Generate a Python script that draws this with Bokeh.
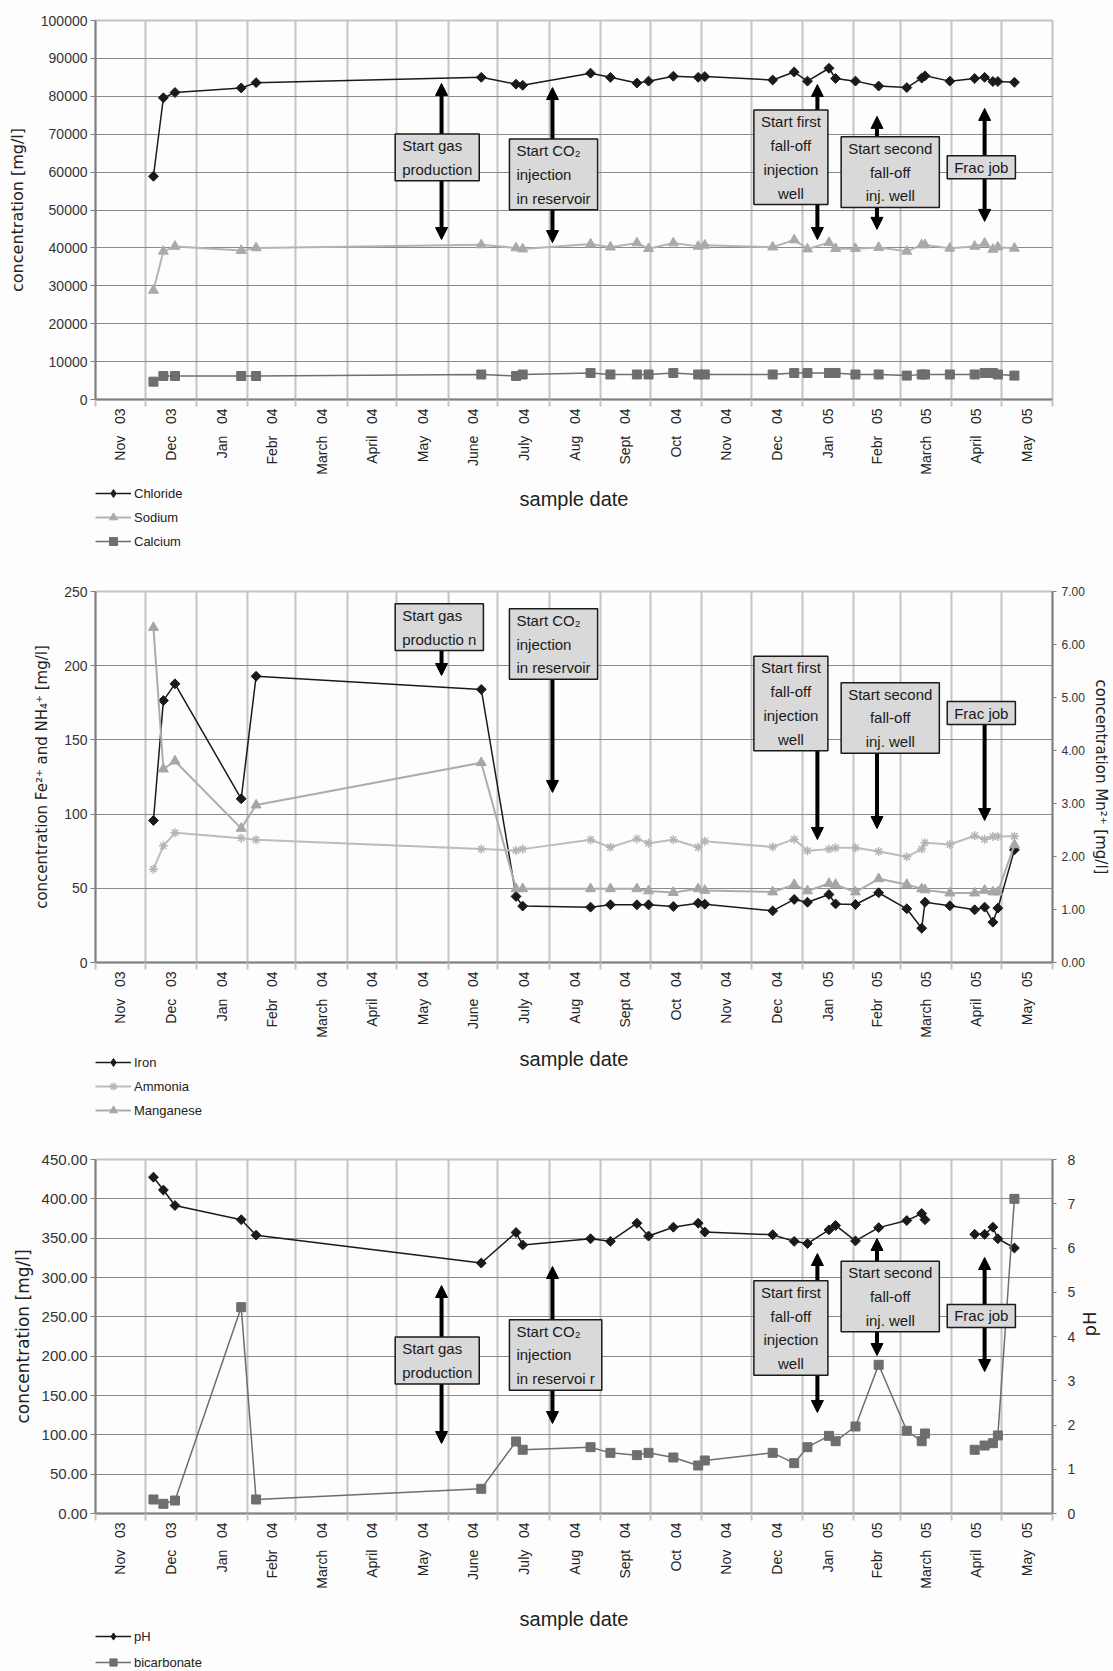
import math
import pandas as pd
from bokeh.plotting import figure
from bokeh.models import (Range1d, LinearAxis, FixedTicker, SingleIntervalTicker,
                          NumeralTickFormatter, Legend, LegendItem, Label, Arrow, NormalHead)
from bokeh.layouts import column
from bokeh.embed import file_html
from bokeh.resources import INLINE

# ---------------- data ----------------
AXIS_START = "2003-11-01"
AXIS_END = "2005-06-01"
MONTHS = ["Nov", "Dec", "Jan", "Febr", "March", "April", "May", "June", "July", "Aug",
          "Sept", "Oct", "Nov", "Dec", "Jan", "Febr", "March", "April", "May"]
YEARS = ["03", "03", "04", "04", "04", "04", "04", "04", "04", "04",
         "04", "04", "04", "04", "05", "05", "05", "05", "05"]

SAMPLE_DATES = ["2003-12-06", "2003-12-12", "2003-12-19", "2004-01-28", "2004-02-06",
                "2004-06-21", "2004-07-12", "2004-07-16", "2004-08-26", "2004-09-07",
                "2004-09-23", "2004-09-30", "2004-10-15", "2004-10-30", "2004-11-03",
                "2004-12-14", "2004-12-27", "2005-01-04", "2005-01-17", "2005-01-21",
                "2005-02-02", "2005-02-16", "2005-03-05", "2005-03-14", "2005-03-16",
                "2005-03-31", "2005-04-15", "2005-04-21", "2005-04-26", "2005-04-29",
                "2005-05-09"]

chloride = [58900, 79600, 81000, 82200, 83600, 85000, 83200, 82900, 86100, 85000,
            83500, 84000, 85300, 85000, 85200, 84300, 86400, 84000, 87400, 84700,
            84000, 82700, 82300, 84800, 85400, 84000, 84700, 85000, 83900, 83900, 83700]
sodium = [28800, 39100, 40400, 39300, 40000, 40800, 40000, 39700, 41000, 40200,
          41300, 39800, 41300, 40400, 40700, 40200, 42100, 39700, 41400, 39800,
          39800, 40100, 39100, 40800, 40800, 39900, 40400, 41200, 39600, 40200, 39900]
calcium = [4700, 6200, 6200, 6200, 6200, 6600, 6200, 6600, 7000, 6600,
           6600, 6600, 7000, 6600, 6600, 6600, 7000, 7000, 7000, 7000,
           6600, 6600, 6300, 6600, 6600, 6600, 6600, 7000, 7000, 6600, 6300]

iron = [95.7, 176.5, 187.8, 110.3, 192.9, 184.0, 44.5, 38.0, 37.3, 38.9,
        38.9, 38.9, 37.7, 40.0, 39.3, 34.8, 42.5, 40.6, 45.8, 39.5,
        39.1, 47.0, 36.2, 23.1, 40.6, 38.2, 35.5, 37.3, 27.2, 36.6, 75.9]
ammonia = [62.9, 78.6, 87.4, 83.8, 82.7, 76.4, 75.5, 76.4, 82.7, 77.7,
           83.3, 80.4, 82.7, 77.7, 81.7, 77.9, 83.1, 75.3, 76.4, 77.3,
           77.3, 74.8, 71.2, 76.4, 80.7, 79.5, 85.4, 83.1, 84.9, 84.9, 85.1]
manganese = [6.32, 3.65, 3.80, 2.53, 2.97, 3.77, 1.39, 1.39, 1.39, 1.39,
             1.39, 1.35, 1.32, 1.39, 1.36, 1.33, 1.47, 1.35, 1.49, 1.47,
             1.33, 1.58, 1.47, 1.39, 1.37, 1.31, 1.31, 1.36, 1.33, 1.33, 2.22]

NaN = float("nan")
ph = [7.60, 7.31, 6.96, 6.64, 6.29, 5.66, 6.35, 6.07, 6.21, 6.15,
      6.56, 6.27, 6.47, 6.56, 6.36, 6.30, 6.15, 6.10, 6.41, 6.51,
      6.16, 6.46, 6.62, 6.78, 6.64, NaN, 6.31, 6.31, 6.47, 6.21, 6.00]
bicarbonate = [17.8, 12.3, 16.5, 262.3, 17.8, 31.4, 91.5, 81.0, 84.3, 77.1,
               74.2, 77.1, 71.2, 61.0, 67.4, 77.1, 64.0, 84.3, 98.7, 91.9,
               110.6, 189.0, 105.1, 91.9, 101.7, NaN, 81.0, 86.4, 89.4, 99.2, 400.0]

# events: arrow date, text anchor date, text alignment
EVENT_DATES = ["2004-05-28", "2004-08-03", "2005-01-10", "2005-02-15", "2005-04-21"]
EVENT_TEXT_DATES = ["2004-04-30", "2004-07-08", "2004-12-25", "2005-02-23", "2005-04-19"]
EVENT_ALIGN = ["left", "left", "center", "center", "center"]
P1_TEXT = ["Start gas\nproduction", "Start CO\u2082\ninjection\nin reservoir",
           "Start first\nfall-off\ninjection\nwell", "Start second\nfall-off\ninj. well", "Frac job"]
P2_TEXT = ["Start gas\nproductio n", "Start CO\u2082\ninjection\nin reservoir",
           "Start first\nfall-off\ninjection\nwell", "Start second\nfall-off\ninj. well", "Frac job"]
P3_TEXT = ["Start gas\nproduction", "Start CO\u2082\ninjection\nin reservoi r",
           "Start first\nfall-off\ninjection\nwell", "Start second\nfall-off\ninj. well", "Frac job"]
P1_TEXT_Y = [63900, 59400, 63900, 60000, 61300]
P1_ARROW = [(83400, 42200), (82300, 41400), (83100, 42200), (74700, 44900), (76800, 47000)]
P2_TEXT_Y = [226, 214.6, 174.5, 164.8, 168.1]
P2_ARROW = [(226, 193.4), (214.6, 114.6), (174.5, 82.9), (164.8, 90.3), (168.1, 95.7)]
P3_TEXT_Y = [194.5, 201.5, 235.8, 275.8, 251.1]
P3_ARROW = [(289.8, 89.0), (314.0, 114.4), (330.5, 128.4), (349.6, 200.8), (325.4, 180.5)]

# ---------------- helpers ----------------
T0 = pd.Timestamp(AXIS_START)


def to_days(dates):
    return [float((pd.Timestamp(d) - T0).days) for d in dates]


X_END = to_days([AXIS_END])[0]
GRID_DAYS = to_days(pd.date_range(AXIS_START, AXIS_END, freq="MS"))
MID_DAYS = [(a + b) / 2.0 for a, b in zip(GRID_DAYS[:-1], GRID_DAYS[1:])]
MONTH_LABELS = {d: f"{m}\u00a0\u00a0\u00a0{y}" for d, m, y in zip(MID_DAYS, MONTHS, YEARS)}
XS = to_days(SAMPLE_DATES)
EV_X = to_days(EVENT_DATES)
EV_TX = to_days(EVENT_TEXT_DATES)

W = 1113
LEFT = 95
RIGHT = 56
BG = "#fdfdfd"
AX = "#808080"
TXT = "#333333"
FONT = "Liberation Sans"
DIAMOND = math.pi / 4

STYLES = {
    "Chloride": dict(color="#1a1a1a", marker="square", size=7, lw=1.5, mcolor="#1a1a1a", angle=DIAMOND),
    "Sodium": dict(color="#b4b4b4", marker="triangle", size=10, lw=2.0, mcolor="#aaaaaa", angle=0.0),
    "Calcium": dict(color="#6e6e6e", marker="square", size=9, lw=1.5, mcolor="#6e6e6e", angle=0.0),
    "Iron": dict(color="#1a1a1a", marker="square", size=7, lw=1.5, mcolor="#1a1a1a", angle=DIAMOND),
    "Ammonia": dict(color="#bcbcbc", marker="asterisk", size=9, lw=2.0, mcolor="#b4b4b4", angle=0.0),
    "Manganese": dict(color="#acacac", marker="triangle", size=10, lw=2.0, mcolor="#a6a6a6", angle=0.0),
    "pH": dict(color="#1a1a1a", marker="square", size=7, lw=1.5, mcolor="#1a1a1a", angle=DIAMOND),
    "bicarbonate": dict(color="#6e6e6e", marker="square", size=9, lw=1.5, mcolor="#6e6e6e", angle=0.0),
}


def make_fig(height, top, bottom, y_end, y_step, y_fmt, y_label,
             y_label_size, y_tick_size, y_label_standoff):
    p = figure(width=W, height=height, x_range=Range1d(0, X_END), y_range=Range1d(0, y_end),
               output_backend="svg", toolbar_location=None,
               min_border_top=top, min_border_left=LEFT, min_border_right=RIGHT,
               min_border_bottom=bottom, background_fill_color=BG, border_fill_color=BG,
               outline_line_color="#c4c4c4", outline_line_width=2)
    xa = p.xaxis[0]
    xa.ticker = FixedTicker(ticks=GRID_DAYS)
    xa.major_label_overrides = {d: "" for d in GRID_DAYS}
    xa.major_label_text_font_size = "0px"
    xa.major_label_standoff = 0
    xa.major_tick_in = 0
    xa.major_tick_out = 7
    xa.major_tick_line_color = "#c4c4c4"
    xa.major_tick_line_width = 2
    xa.minor_tick_line_color = None
    xa.axis_line_color = AX
    xa.axis_line_width = 2

    la = LinearAxis(ticker=FixedTicker(ticks=MID_DAYS), major_label_overrides=MONTH_LABELS,
                    major_label_orientation=math.pi / 2, axis_line_color=None,
                    major_tick_line_color=None, minor_tick_line_color=None,
                    major_tick_in=0, major_tick_out=0, major_label_standoff=2,
                    major_label_text_font=FONT, major_label_text_font_size="14px",
                    major_label_text_color="#222222")
    p.add_layout(la, "below")

    p.xgrid.grid_line_color = "#c4c4c4"
    p.xgrid.grid_line_width = 2
    p.ygrid.grid_line_color = "#8a8a8a"
    p.ygrid.grid_line_width = 1

    ya = p.yaxis[0]
    ya.ticker = SingleIntervalTicker(interval=y_step, num_minor_ticks=0)
    ya.formatter = NumeralTickFormatter(format=y_fmt)
    ya.axis_line_color = AX
    ya.axis_line_width = 2
    ya.major_tick_line_color = AX
    ya.major_tick_in = 0
    ya.major_tick_out = 5
    ya.minor_tick_line_color = None
    ya.major_label_standoff = 3
    ya.major_label_text_font = FONT
    ya.major_label_text_font_size = y_tick_size
    ya.major_label_text_color = TXT
    ya.axis_label = y_label
    ya.axis_label_standoff = y_label_standoff
    ya.axis_label_text_font = "DejaVu Sans"
    ya.axis_label_text_font_size = y_label_size
    ya.axis_label_text_font_style = "normal"
    ya.axis_label_text_color = "#222222"
    return p


def add_right_axis(p, name, end, step, fmt, label, tick_size, label_size, standoff,
                   label_standoff, upward):
    p.extra_y_ranges = {name: Range1d(0, end)}
    ra = LinearAxis(y_range_name=name, ticker=SingleIntervalTicker(interval=step, num_minor_ticks=0),
                    formatter=NumeralTickFormatter(format=fmt),
                    axis_line_color=AX, axis_line_width=2, major_tick_line_color=AX,
                    major_tick_in=0, major_tick_out=4, minor_tick_line_color=None,
                    major_label_standoff=standoff, major_label_text_font=FONT,
                    major_label_text_font_size=tick_size, major_label_text_color=TXT,
                    axis_label=label, axis_label_standoff=label_standoff,
                    axis_label_text_font="DejaVu Sans", axis_label_text_font_size=label_size,
                    axis_label_text_font_style="normal", axis_label_text_color="#222222")
    if upward:
        try:
            ra.axis_label_orientation = math.pi / 2
        except Exception:
            pass
    p.add_layout(ra, "right")


def draw(p, name, x, y, rname="default", legend=False):
    s = STYLES[name]
    r1 = p.line(x, y, line_color=s["color"], line_width=s["lw"], y_range_name=rname)
    if s["marker"] == "asterisk":
        r2 = p.scatter(x, y, marker="asterisk", size=s["size"], line_color=s["mcolor"],
                       line_width=1.5, y_range_name=rname)
    elif legend and s["angle"]:
        r2 = p.scatter(x, y, marker="diamond", size=s["size"] + 4, fill_color=s["mcolor"],
                       line_color=s["mcolor"], y_range_name=rname)
    else:
        r2 = p.scatter(x, y, marker=s["marker"], size=s["size"], fill_color=s["mcolor"],
                       line_color=s["mcolor"], angle=s["angle"], y_range_name=rname)
    return [r1, r2]


def add_events(p, texts, text_y, arrows, double):
    for i in range(len(texts)):
        y0, y1 = arrows[i]
        head = dict(size=12, fill_color="black", line_color="black", line_width=1)
        p.add_layout(Arrow(x_start=EV_X[i], y_start=y0, x_end=EV_X[i], y_end=y1,
                           line_width=4, line_color="black",
                           end=NormalHead(**head),
                           start=NormalHead(**head) if double else None))
    for i, t in enumerate(texts):
        p.add_layout(Label(x=EV_TX[i], y=text_y[i], text=t, text_align=EVENT_ALIGN[i],
                           text_baseline="middle", text_font=FONT, text_font_size="15px",
                           text_color="#1a1a1a", text_line_height=1.4,
                           background_fill_color="#d9d9d9", border_line_color="#1a1a1a",
                           border_line_width=1.5,
                           padding=dict(left=7, right=7, top=3, bottom=3)))


def legend_fig(height, names, caption_from_top, legend_top, item_h, spacing):
    """Strip under a panel holding its legend and the 'sample date' caption."""
    q = figure(width=W, height=height, x_range=Range1d(0, X_END), y_range=Range1d(0, height),
               output_backend="svg", toolbar_location=None, min_border=0,
               min_border_left=LEFT, min_border_right=RIGHT,
               x_axis_location=None, y_axis_location=None,
               background_fill_color=BG, border_fill_color=BG, outline_line_color=None)
    q.xgrid.visible = False
    q.ygrid.visible = False
    # legend swatches: renderers with no visible data point
    items = [LegendItem(label=n, renderers=draw(q, n, [NaN], [NaN], legend=True)) for n in names]
    n = len(names)
    leg_h = n * item_h + (n - 1) * spacing
    q.add_layout(Legend(items=items, location=(0, height - legend_top - leg_h),
                        orientation="vertical",
                        glyph_width=36, glyph_height=item_h, label_height=item_h, spacing=spacing,
                        padding=0, margin=0, label_standoff=3, border_line_color=None,
                        background_fill_alpha=0, label_text_font=FONT,
                        label_text_font_size="13px", label_text_color="#222222"))
    q.add_layout(Label(x=X_END / 2.0, y=height - caption_from_top, text="sample date",
                       text_align="center", text_baseline="middle", text_font=FONT,
                       text_font_size="20px", text_color="#222222"))
    return q


# ---------------- panel 1 ----------------
p1 = make_fig(483, 20, 84, 100000, 10000, "0", "concentration [mg/l]", "16px", "14px", 11)
draw(p1, "Chloride", XS, chloride)
draw(p1, "Sodium", XS, sodium)
draw(p1, "Calcium", XS, calcium)
add_events(p1, P1_TEXT, P1_TEXT_Y, P1_ARROW, True)
l1 = legend_fig(85, ["Chloride", "Sodium", "Calcium"], 15, 0, 20, 4)

# ---------------- panel 2 ----------------
p2 = make_fig(480, 23, 86, 250, 50, "0",
              "concentration Fe\u00b2\u207a and NH\u2084\u207a [mg/l]", "15px", "14px", 10)
add_right_axis(p2, "mn", 7, 1, "0.00", "concentration Mn\u00b2\u207a [mg/l]", "12px", "15px",
               5, 4, False)
draw(p2, "Iron", XS, iron)
draw(p2, "Ammonia", XS, ammonia)
draw(p2, "Manganese", XS, manganese, rname="mn")
add_events(p2, P2_TEXT, P2_TEXT_Y, P2_ARROW, False)
l2 = legend_fig(85, ["Iron", "Ammonia", "Manganese"], 10, 4, 20, 4)

# ---------------- panel 3 ----------------
p3 = make_fig(470, 26, 90, 450, 50, "0.00", "concentration [mg/l]", "17px", "15px", 6)
add_right_axis(p3, "ph", 8, 1, "0", "pH", "14px", "18px", 11, 11, True)
draw(p3, "pH", XS, ph, rname="ph")
draw(p3, "bicarbonate", XS, bicarbonate)
add_events(p3, P3_TEXT, P3_TEXT_Y, P3_ARROW, True)
l3 = legend_fig(68, ["pH", "bicarbonate"], 15, 24, 18, 8)

layout = column(p1, l1, p2, l2, p3, l3, spacing=0)
open("out.html", "w").write(file_html(layout, INLINE))
